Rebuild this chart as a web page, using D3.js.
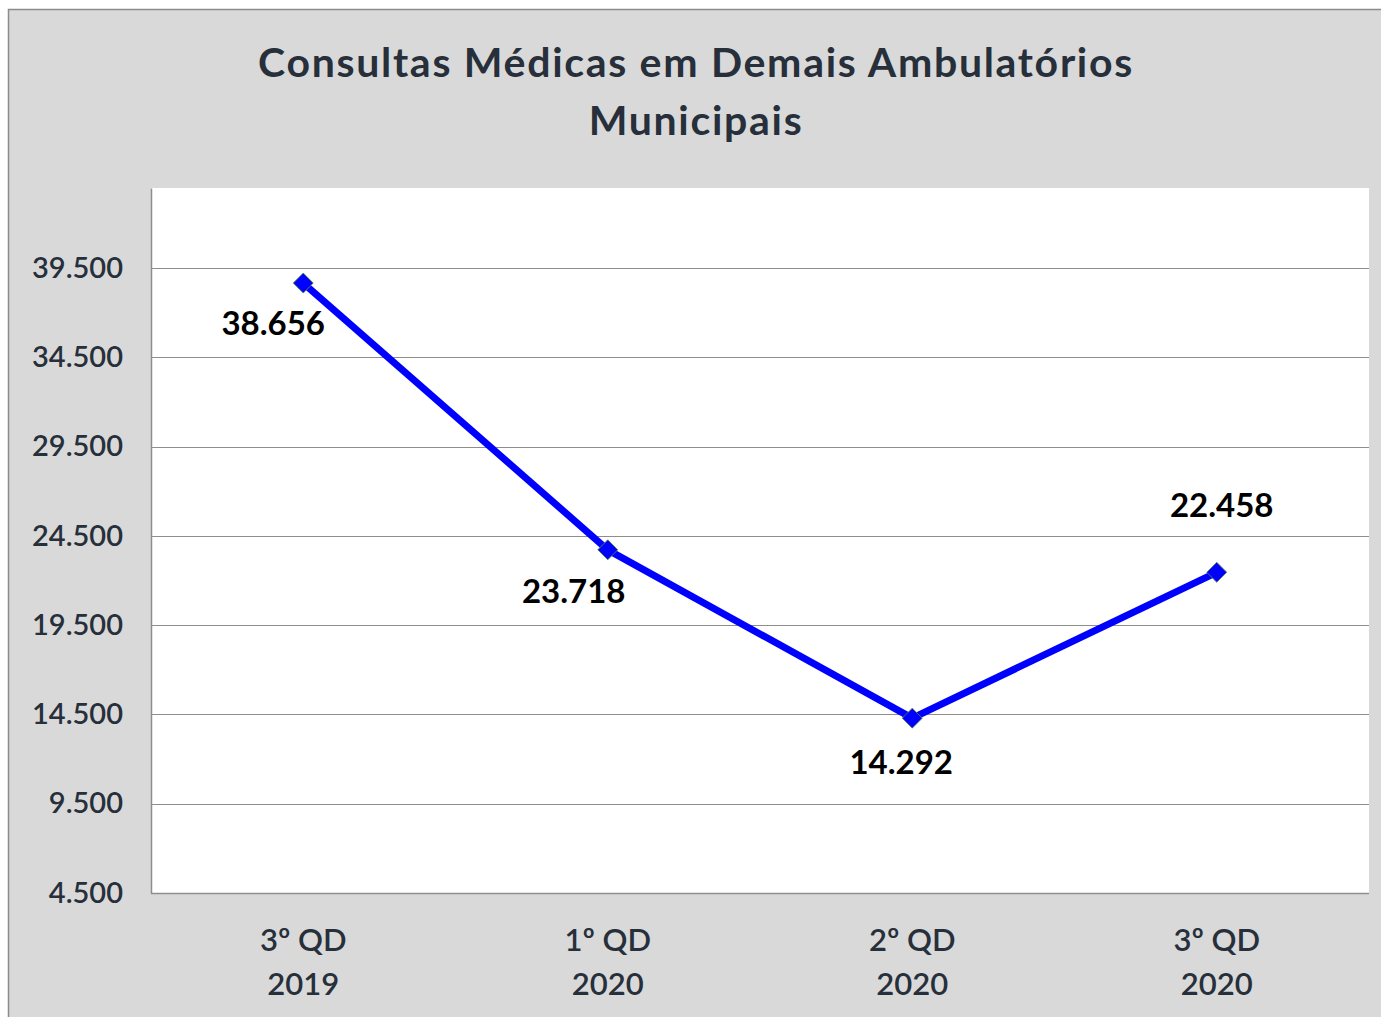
<!DOCTYPE html>
<html><head><meta charset="utf-8">
<script src="https://cdn.jsdelivr.net/npm/d3@7"></script>
<style>
html,body{margin:0;padding:0;background:#fff;}
svg{display:block;}
text{font-family:Lato,"Open Sans",sans-serif;}
</style></head>
<body><svg id="c" width="1381" height="1017"></svg>
<script>
const categories = ["3º QD|2019", "1º QD|2020", "2º QD|2020", "3º QD|2020"];
const values = [38656, 23718, 14292, 22458];
const yTicks = [4500, 9500, 14500, 19500, 24500, 29500, 34500, 39500];
const titleLines = ["Consultas Médicas em Demais Ambulatórios", "Municipais"];
// label placement relative to point (dx, dy)
const labelOffsets = [[-30, 52], [-34, 53], [-11, 56], [5, -55]];

const svg = d3.select("#c");
const W = 1381, H = 1017;
const plot = {left: 151, right: 1369, top: 188, bottom: 893};

svg.append("rect").attr("x", 8.5).attr("y", 9.5).attr("width", W).attr("height", H)
  .attr("fill", "#d9d9d9").attr("stroke", "#8c8c8c").attr("stroke-width", 1.5);

svg.append("rect").attr("x", plot.left).attr("y", plot.top)
  .attr("width", plot.right - plot.left).attr("height", plot.bottom - plot.top)
  .attr("fill", "#ffffff");

const x = d3.scaleBand().domain(categories).range([plot.left, plot.right]);
const y = d3.scaleLinear().domain([4500, 43980]).range([plot.bottom, plot.top]);

// gridlines
svg.append("g").selectAll("line").data(yTicks.slice(1)).join("line")
  .attr("x1", plot.left).attr("x2", plot.right)
  .attr("y1", d => Math.round(y(d)) + 0.5).attr("y2", d => Math.round(y(d)) + 0.5)
  .attr("stroke", "#8e8e8e").attr("stroke-width", 1.2);

const fmtDot = d => { const s = String(d); return s.slice(0, s.length - 3) + "." + s.slice(-3); };

// y axis
const yAxis = d3.axisLeft(y).tickValues(yTicks).tickFormat(fmtDot).tickSize(0).tickPadding(28);
const gy = svg.append("g").attr("transform", `translate(${plot.left},0)`).call(yAxis);
gy.select(".domain").attr("stroke", "#8e8e8e").attr("stroke-width", 1.5);
gy.selectAll("text").attr("font-size", 29).attr("font-weight", 600).attr("fill", "#262f3a")
  .attr("font-family", "Lato, sans-serif");

// x axis baseline
svg.append("line").attr("x1", plot.left).attr("x2", plot.right)
  .attr("y1", plot.bottom + 0.5).attr("y2", plot.bottom + 0.5)
  .attr("stroke", "#8e8e8e").attr("stroke-width", 1.5);

// x labels
const xAxis = d3.axisBottom(x).tickSize(0).tickFormat("");
const gx = svg.append("g").attr("transform", `translate(0,${plot.bottom})`).call(xAxis);
gx.select(".domain").remove();
gx.selectAll(".tick").each(function(d) {
  const t = d3.select(this).append("text").attr("fill", "#262f3a").attr("font-size", 31)
    .attr("font-weight", 600).attr("text-anchor", "middle");
  const parts = d.split("|");
  t.append("tspan").attr("x", 0).attr("y", 58).text(parts[0]);
  t.append("tspan").attr("x", 0).attr("y", 102).text(parts[1]);
});

// title
svg.append("text").attr("x", 696).attr("text-anchor", "middle")
  .attr("font-size", 41).attr("font-weight", "bold").attr("fill", "#262f3a")
  .attr("letter-spacing", 1.7)
  .selectAll("tspan").data(titleLines).join("tspan")
  .attr("x", 696).attr("y", (d, i) => 77 + i * 58).text(d => d);

// line
const pts = values.map((v, i) => [x(categories[i]) + x.bandwidth() / 2, y(v)]);
svg.append("path").attr("d", d3.line()(pts)).attr("fill", "none")
  .attr("stroke", "#0000ff").attr("stroke-width", 7).attr("stroke-linejoin", "round");

// markers
svg.append("g").selectAll("path").data(pts).join("path")
  .attr("d", d3.symbol().type(d3.symbolSquare).size(200))
  .attr("transform", d => `translate(${d[0]},${d[1]}) rotate(45)`)
  .attr("fill", "#0000ff").attr("stroke", "#5a8a3a").attr("stroke-width", 0.8);

// data labels
svg.append("g").selectAll("text").data(values).join("text")
  .attr("x", (d, i) => pts[i][0] + labelOffsets[i][0])
  .attr("y", (d, i) => pts[i][1] + labelOffsets[i][1])
  .attr("text-anchor", "middle").attr("font-size", 33).attr("font-weight", "bold")
  .attr("fill", "#000").text(d => fmtDot(d));
</script></body></html>
